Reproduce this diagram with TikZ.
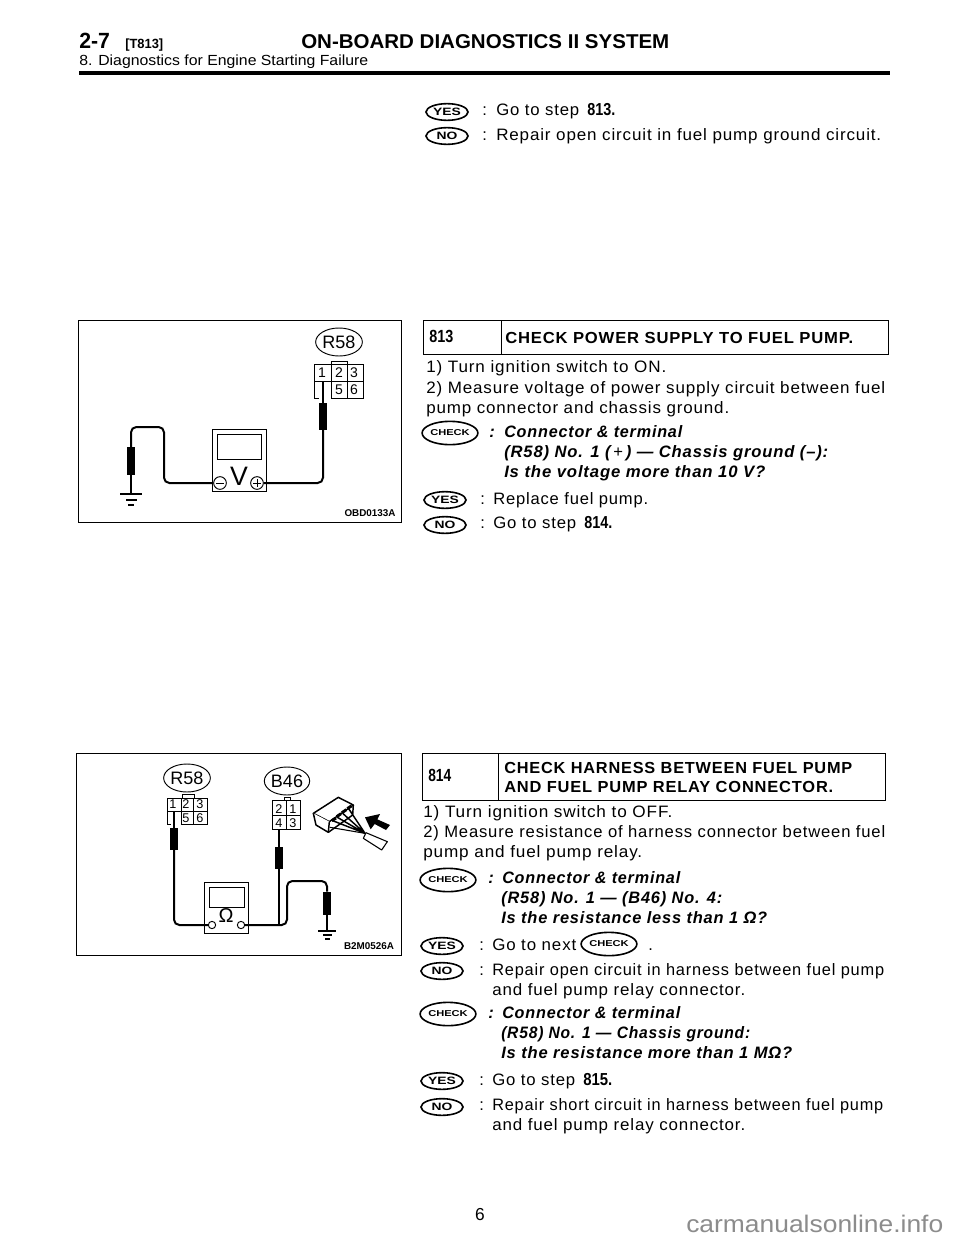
\documentclass[tikz,border=0pt]{standalone}
\usepackage{fontspec}
\usepackage{graphicx}
\usetikzlibrary{shapes.geometric,calc}
\setmainfont{Liberation Sans}[LetterSpace=5]
\newfontfamily\plainf{Liberation Sans}
\newfontfamily\ovalf{Liberation Sans Bold}[FakeStretch=1.3]
\newcounter{tn}
% style, x, y, right end x, text: text set at baseline and fitted between x and right end
\newcommand{\tline}[5]{\stepcounter{tn}\pgfmathsetlengthmacro{\fw}{(#4-#2)*0.75pt}%
 \node[#1] (t\thetn) at (#2,#3) {\resizebox{\fw}{\height}{#5}};}
\newcommand{\tcolon}[4]{\stepcounter{tn}\node[#1] (t\thetn) at (#2,#3) {#4};}
\newcommand{\pinat}[4]{\stepcounter{tn}\node[pin,font=\plainf\fontsize{#4}{12pt}\selectfont] (t\thetn) at (#1,#2) {#3};}
\tikzset{
 body/.style={anchor=base west,inner sep=0pt,font=\fontsize{12.4pt}{15pt}\selectfont},
 chk/.style={body,font=\fontsize{12.4pt}{15pt}\selectfont\bfseries\itshape},
 ttl/.style={body,font=\fontsize{12pt}{15pt}\selectfont\bfseries},
 stepno/.style={body,font=\plainf\fontsize{13.2pt}{15pt}\selectfont\bfseries},
 bnum/.style={body,font=\plainf\fontsize{13pt}{15pt}\selectfont\bfseries},
 yesoval/.style={ellipse,draw,line width=1.2pt,minimum width=31.5pt,minimum height=12.5pt,inner sep=0pt,font=\ovalf\fontsize{8pt}{8pt}\selectfont},
 chkoval/.style={ellipse,draw,line width=1.2pt,minimum width=37.5pt,minimum height=17.5pt,inner sep=0pt,font=\ovalf\fontsize{6.4pt}{8pt}\selectfont},
 tag/.style={ellipse,draw,line width=.7pt,minimum width=34pt,minimum height=21pt,inner sep=0pt,font=\plainf\fontsize{13.5pt}{14pt}\selectfont},
 pin/.style={inner sep=0pt},
 code/.style={inner sep=0pt,font=\plainf\fontsize{7.4pt}{9pt}\selectfont\bfseries},
 frameline/.style={line width=.6pt},
 wire/.style={line width=1.5pt,rounded corners=4pt},
 probe/.style={draw,fill=black,minimum width=5.5pt,inner sep=0pt},
 meter/.style={draw,line width=.6pt,inner sep=0pt},
 term/.style={circle,draw,fill=white,line width=.7pt,inner sep=0pt},
}
\begin{document}
\begin{tikzpicture}[x=0.75pt,y=-0.75pt]
\useasboundingbox (0,0) rectangle (960,1242);
\fill[white] (0,0) rectangle (960,1242);
% header
\node[anchor=base west,inner sep=0pt,font=\plainf\fontsize{16.5pt}{18pt}\selectfont\bfseries] (hnum) at (79,48) {\resizebox{23pt}{\height}{2-7}};
\node[anchor=base west,inner sep=0pt,font=\plainf\fontsize{10pt}{11pt}\selectfont\bfseries] (href) at (125,48) {\resizebox{28.5pt}{\height}{[T813]}};
\node[anchor=base west,inner sep=0pt,font=\plainf\fontsize{15pt}{18pt}\selectfont\bfseries] (htitle) at (301,48) {\resizebox{276pt}{\height}{ON-BOARD DIAGNOSTICS II SYSTEM}};
\node[anchor=base west,inner sep=0pt,font=\plainf\fontsize{11pt}{13pt}\selectfont] (hsub) at (79,65) {\resizebox{216.7pt}{\height}{8. Diagnostics for Engine Starting Failure}};
\fill (79,71) rectangle (890,74.5);
% top answers
\node[yesoval] (y0) at (447,112) {YES};
\tcolon{body}{482}{115}{:}
\tline{body}{496}{115}{579}{Go to step}
\tline{bnum}{587}{115}{615}{813.}
\node[yesoval] (n0) at (447,136) {NO};
\tcolon{body}{482}{140}{:}
\tline{body}{496}{140}{881}{Repair open circuit in fuel pump ground circuit.}
% box 1
\draw[frameline] (78,320) rectangle (401,522);
\node[tag] (r58a) at (339,342) {R58};
\draw[frameline] (331,364) -- (331,361) -- (347,361) -- (347,364);
\draw[frameline] (314,364) rectangle (363,381);
\draw[frameline] (314,381) -- (314,398) -- (319,398);
\draw[frameline] (331,398) rectangle (363,381);
\draw[frameline] (331,364) -- (331,398) (347,364) -- (347,398);
\pinat{322}{373}{1}{10.5pt}\pinat{339}{373}{2}{10.5pt}\pinat{354}{373}{3}{10.5pt}
\pinat{339}{389.5}{5}{10.5pt}\pinat{354}{389.5}{6}{10.5pt}
\node[meter,minimum width=40.5pt,minimum height=46.5pt] (m1) at (239,460) {};
\node[meter,minimum width=33pt,minimum height=18.7pt] (s1) at (239,446.5) {};
\node[inner sep=0pt,font=\plainf\fontsize{20pt}{22pt}\selectfont] (v1) at (239,476) {V};
\node[term,minimum size=9.5pt] (tm1) at (220,483) {};
\node[term,minimum size=9.5pt] (tp1) at (257,483) {};
\draw[line width=.6pt] (216,483) -- (224,483) (253,483) -- (261,483) (257,479) -- (257,487);
\node[probe,minimum height=19.5pt] (pa1) at (323,416) {};
\node[probe,minimum height=20pt] (pb1) at (131,460.5) {};
\coordinate (tipa1) at (323,381);
\coordinate (gnd1) at (131,494);
\draw[line width=1.5pt] (tipa1) -- (pa1.north);
\draw[wire] (pa1.south) -- (323,483) -- (tp1.east);
\draw[wire] (tm1.west) -- (164,483) -- (164,427) -- (131,427) -- (pb1.north);
\draw[line width=1.5pt] (pb1.south) -- (gnd1);
\draw[line width=1pt] (120,494) -- (142,494) (126,500) -- (137,500) (128,505) -- (134,505);
\node[code] (c1) at (370,513) {OBD0133A};
% box 2
\draw[frameline] (76,753) rectangle (401,955);
\node[tag] (r58b) at (187,778) {R58};
\node[tag] (b46) at (287,781) {B46};
\draw[frameline] (182,798) -- (182,794) -- (194,794) -- (194,798);
\draw[frameline] (167,798) rectangle (207,811);
\draw[frameline] (167,811) -- (167,824) -- (171,824);
\draw[frameline] (181,824) rectangle (207,811);
\draw[frameline] (181,798) -- (181,824) (193,798) -- (193,824);
\pinat{173}{804.5}{1}{9.5pt}\pinat{186}{804.5}{2}{9.5pt}\pinat{200}{804.5}{3}{9.5pt}
\pinat{186}{818}{5}{9.5pt}\pinat{200}{818}{6}{9.5pt}
\draw[frameline] (272,800) rectangle (300,829);
\draw[frameline] (284,800) -- (284,797) -- (290,797) -- (290,800);
\draw[frameline] (286,800) -- (286,829) (272,815) -- (300,815);
\pinat{279}{809}{2}{9.5pt}\pinat{293}{809}{1}{9.5pt}\pinat{279}{823}{4}{9.5pt}\pinat{293}{823}{3}{9.5pt}
\node[meter,minimum width=33pt,minimum height=38.3pt] (m2) at (226,907.5) {};
\node[meter,minimum width=26.3pt,minimum height=15pt] (s2) at (226.5,897) {};
\node[inner sep=0pt,font=\plainf\fontsize{15pt}{18pt}\selectfont] (o2) at (226,916) {Ω};
\node[term,minimum size=5.5pt] (tl2) at (212,925) {};
\node[term,minimum size=5.5pt] (tr2) at (241,925) {};
\node[probe,minimum height=15.7pt] (pa2) at (174,838.5) {};
\node[probe,minimum height=15.7pt] (pb2) at (279,857.5) {};
\node[probe,minimum height=16.5pt] (pc2) at (327,903) {};
\coordinate (tipa2) at (174,811);
\coordinate (tipb2) at (279,829);
\coordinate (joint2) at (279,925);
\coordinate (gnd2) at (327,931);
\draw[line width=1.5pt] (tipa2) -- (pa2.north);
\draw[wire] (pa2.south) -- (174,925) -- (tl2.west);
\draw[line width=1.5pt] (tipb2) -- (pb2.north) (pb2.south) -- (joint2);
\draw[wire] (tr2.east) -- (287,925) -- (287,881) -- (327,881) -- (pc2.north);
\draw[line width=1.5pt] (pc2.south) -- (gnd2);
\draw[line width=1pt] (318,931) -- (336,931) (323,935) -- (332,935) (325,939) -- (330,939);
\node[code] (c2) at (369,946) {B2M0526A};
% connector icon
\begin{scope}[shift={(300,790)},x=0.25pt,y=-0.25pt,line width=.8pt,line join=round]
\draw[fill=white,line width=1.1pt] (40,70) -- (115,22) -- (160,45) -- (88,95) -- cycle;
\draw[fill=white,line width=1.1pt] (40,70) -- (48,105) -- (85,127) -- (88,95);
\draw[line width=1.1pt] (85,127) -- (158,75) -- (160,45);
\draw[fill=white] (190,145) -- (245,180) -- (262,155) -- (198,128) -- cycle;
\draw[line width=1.1pt] (98,92) -- (195,130) (112,82) -- (195,130) (128,70) -- (195,130) (146,56) -- (195,130);
\draw[line width=.8pt] (90,112) -- (195,130);
\draw[line width=2.2pt] (95,92) -- (108,84) (110,80) -- (123,71) (126,68) -- (139,59) (142,56) -- (154,48);
\fill (195,82) -- (240,72) -- (232,88) -- (270,105) -- (258,120) -- (224,102) -- (212,118) -- cycle;
\end{scope}
% 813
\draw[frameline] (423,320) rectangle (888,354);
\draw[frameline] (501,320) -- (501,354);
\tline{stepno}{429}{342}{453}{813}
\tline{ttl}{505}{343}{853}{CHECK POWER SUPPLY TO FUEL PUMP.}
\tline{body}{426}{372}{666}{1) Turn ignition switch to ON.}
\tline{body}{426}{393}{885}{2) Measure voltage of power supply circuit between fuel}
\tline{body}{426}{413}{729}{pump connector and chassis ground.}
\node[chkoval] (c813) at (450,433) {CHECK};
\tcolon{chk}{489}{437}{:}
\tline{chk}{504}{437}{682}{Connector \& terminal}
\tline{chk}{504}{457}{828}{(R58) No. 1 (\,{\plainf\mdseries\upshape +}\,) — Chassis ground (–):}
\tline{chk}{504}{477}{765}{Is the voltage more than 10 V?}
\node[yesoval] (y813) at (445,500) {YES};
\tcolon{body}{480}{504}{:}
\tline{body}{493}{504}{648}{Replace fuel pump.}
\node[yesoval] (n813) at (445,525) {NO};
\tcolon{body}{480}{528}{:}
\tline{body}{493}{528}{576}{Go to step}
\tline{bnum}{584}{528}{612}{814.}
% 814
\draw[frameline] (422,753) rectangle (885,800);
\draw[frameline] (498,753) -- (498,800);
\tline{stepno}{428}{781}{451}{814}
\tline{ttl}{504}{773}{852}{CHECK HARNESS BETWEEN FUEL PUMP}
\tline{ttl}{504}{792}{833}{AND FUEL PUMP RELAY CONNECTOR.}
\tline{body}{423}{817}{672}{1) Turn ignition switch to OFF.}
\tline{body}{423}{837}{885}{2) Measure resistance of harness connector between fuel}
\tline{body}{423}{857}{642}{pump and fuel pump relay.}
\node[chkoval] (c814a) at (448,880) {CHECK};
\tcolon{chk}{488}{883}{:}
\tline{chk}{502}{883}{680}{Connector \& terminal}
\tline{chk}{501}{903}{722}{(R58) No. 1 — (B46) No. 4:}
\tline{chk}{501}{923}{767}{Is the resistance less than 1 Ω?}
\node[yesoval] (y814a) at (442,946) {YES};
\tcolon{body}{479}{950}{:}
\tline{body}{492}{950}{576}{Go to next}
\node[chkoval] (c814i) at (609,944) {CHECK};
\tcolon{body}{648}{950}{.}
\node[yesoval] (n814a) at (442,971) {NO};
\tcolon{body}{479}{975}{:}
\tline{body}{492}{975}{884}{Repair open circuit in harness between fuel pump}
\tline{body}{492}{995}{745}{and fuel pump relay connector.}
\node[chkoval] (c814b) at (448,1014) {CHECK};
\tcolon{chk}{488}{1018}{:}
\tline{chk}{502}{1018}{680}{Connector \& terminal}
\tline{chk}{501}{1038}{750}{(R58) No. 1 — Chassis ground:}
\tline{chk}{501}{1058}{792}{Is the resistance more than 1 MΩ?}
\node[yesoval] (y814b) at (442,1081) {YES};
\tcolon{body}{479}{1085}{:}
\tline{body}{492}{1085}{575}{Go to step}
\tline{bnum}{583}{1085}{612}{815.}
\node[yesoval] (n814b) at (442,1107) {NO};
\tcolon{body}{479}{1110}{:}
\tline{body}{492}{1110}{883}{Repair short circuit in harness between fuel pump}
\tline{body}{492}{1130}{745}{and fuel pump relay connector.}
\node[inner sep=0pt,font=\plainf\fontsize{13pt}{15pt}\selectfont] (pg) at (480,1215) {6};
\tline{anchor=base west,inner sep=0pt,text=black!45,font=\plainf\fontsize{18pt}{20pt}\selectfont}{686}{1232}{943}{carmanualsonline.info}
\end{tikzpicture}
\end{document}
